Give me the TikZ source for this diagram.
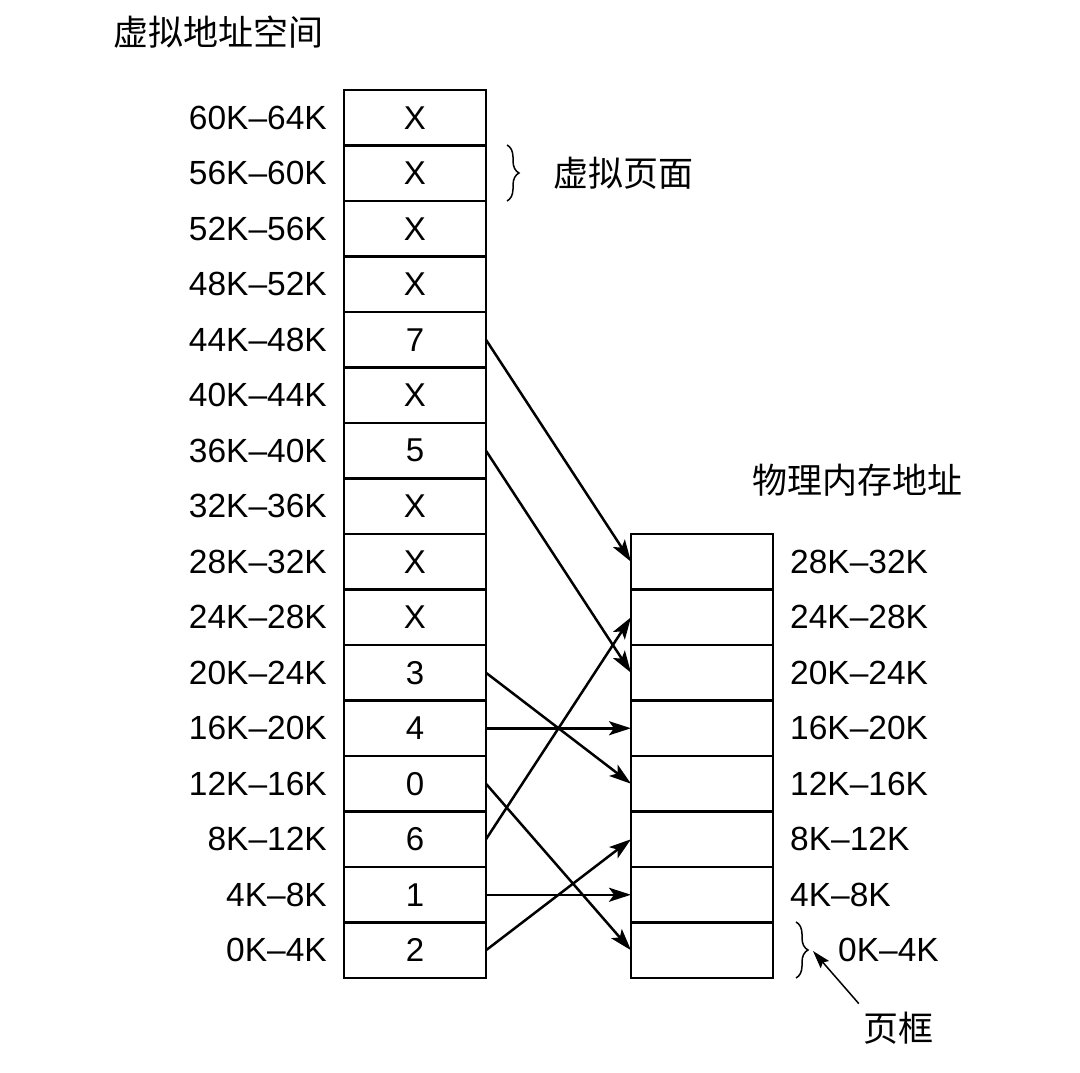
\documentclass[tikz,border=0pt]{standalone}
\usepackage{fontspec}
\setmainfont{Liberation Sans}
\newfontfamily\cjk{Noto Sans CJK SC}
\usetikzlibrary{arrows.meta,decorations.pathreplacing}
\begin{document}
\begin{tikzpicture}[x=1pt,y=-1pt,
  cell/.style={draw,line width=2.6pt,minimum width=142pt,minimum height=55.5pt,inner sep=0pt,outer sep=0pt,font=\fontsize{33}{38}\selectfont},
  lab/.style={font=\fontsize{33.5}{38}\selectfont,inner sep=0pt},
  cjklab/.style={font=\cjk\fontsize{35}{40}\selectfont,inner sep=0pt},
  map/.style={line width=2.5pt,-{Stealth[length=22pt,width=14pt,inset=5pt]}},
  brc/.style={decorate,decoration={brace,amplitude=12pt},line width=1.5pt}]
\useasboundingbox (0,0) rectangle (1080,1073);
% left column (index 0 = bottom)
\foreach \i/\v/\t in {0/2/0K--4K,1/1/4K--8K,2/6/8K--12K,3/0/12K--16K,4/4/16K--20K,5/3/20K--24K,6/X/24K--28K,7/X/28K--32K,8/X/32K--36K,9/5/36K--40K,10/X/40K--44K,11/7/44K--48K,12/X/48K--52K,13/X/52K--56K,14/X/56K--60K,15/X/60K--64K}{
  \node[cell] (L\i) at (415,{978-(\i+0.5)*55.5}) {\v};
  \node[lab,anchor=east] (LL\i) at (327,{978-(\i+0.5)*55.5}) {\t};
}
% right column
\foreach \i/\t in {1/4K--8K,2/8K--12K,3/12K--16K,4/16K--20K,5/20K--24K,6/24K--28K,7/28K--32K}{
  \node[cell] (R\i) at (702,{978-(\i+0.5)*55.5}) {};
  \node[lab,anchor=west] (RL\i) at (790,{978-(\i+0.5)*55.5}) {\t};
}
\node[cell] (R0) at (702,{978-0.5*55.5}) {};
\node[lab,anchor=west] (RL0) at (838,{978-0.5*55.5}) {0K--4K};
% titles
\node[cjklab,anchor=west] (t1) at (113,32) {虚拟地址空间};
\node[cjklab,anchor=west] (t2) at (752,480) {物理内存地址};
\node[cjklab,anchor=west] (t3) at (553,173) {虚拟页面};
\node[cjklab] (t4) at (898,1028) {页框};
% braces
\draw[brc] (507,145) -- (507,201);
\draw[brc] (796,922) -- (796,978);
\coordinate (tip) at (813,951);
% mapping arrows
\draw[map] (L11.east) -- (R7.west);
\draw[map] (L9.east) -- (R5.west);
\draw[map] (L5.east) -- (R3.west);
\draw[map] (L4.east) -- (R4.west);
\draw[map] (L3.east) -- (R0.west);
\draw[map] (L2.east) -- (R6.west);
\draw[map] (L1.east) -- (R1.west);
\draw[map] (L0.east) -- (R2.west);
% frame pointer
\draw[line width=1.5pt,-{Stealth[length=18pt,width=11pt,inset=3pt]}] (t4.north west)++(-4,-8) -- (tip);
\end{tikzpicture}
\end{document}
